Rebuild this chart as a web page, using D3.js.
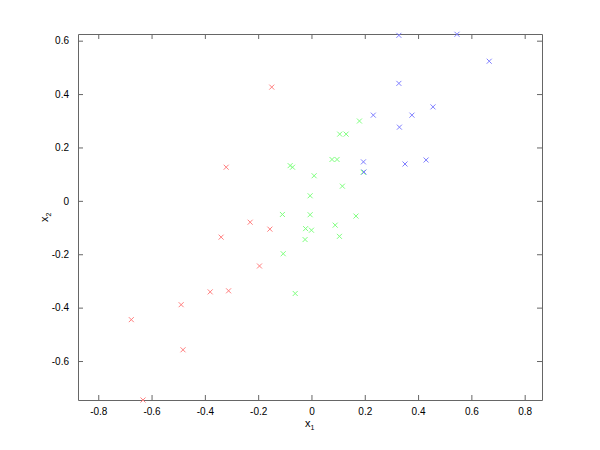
<!DOCTYPE html>
<html>
<head>
<meta charset="utf-8">
<script src="https://cdn.jsdelivr.net/npm/d3@7"></script>
<style>
  body { margin: 0; background: #fff; }
  text { font-family: "Liberation Sans", Arial, sans-serif; }
</style>
</head>
<body>
<svg id="chart"></svg>
<script>
// class 1 (red)
var redX = [-0.676, -0.632, -0.489, -0.482, -0.380, -0.311, -0.339, -0.230, -0.156, -0.195, -0.320, -0.149];
var redY = [-0.445, -0.746, -0.389, -0.558, -0.341, -0.337, -0.136, -0.080, -0.106, -0.244, 0.126, 0.426];
// class 2 (green)
var greenX = [0.180, 0.106, 0.130, 0.077, 0.096, -0.080, -0.071, 0.194, 0.010, 0.116, -0.005,
  -0.109, -0.005, 0.167, 0.089, -0.022, 0.000, 0.105, -0.024, -0.106, -0.061];
var greenY = [0.299, 0.250, 0.250, 0.155, 0.155, 0.132, 0.126, 0.107, 0.094, 0.055, 0.019,
  -0.051, -0.052, -0.057, -0.091, -0.104, -0.110, -0.133, -0.145, -0.198, -0.347];
// class 3 (blue)
var blueX = [0.328, 0.546, 0.667, 0.328, 0.456, 0.232, 0.377, 0.330, 0.195, 0.351, 0.430, 0.197];
var blueY = [0.620, 0.624, 0.523, 0.440, 0.352, 0.321, 0.321, 0.276, 0.146, 0.138, 0.153, 0.108];

var xTicks = [-0.8, -0.6, -0.4, -0.2, 0, 0.2, 0.4, 0.6, 0.8];
var yTicks = [-0.6, -0.4, -0.2, 0, 0.2, 0.4, 0.6];

var width = 600, height = 450;
var padLeft = 78, padRight = 542, padTop = 34, padBottom = 400;

var svg = d3.select("#chart").attr("width", width).attr("height", height);

var xScale = d3.scaleLinear().domain([-0.876, 0.865]).range([padLeft, padRight]);
var yScale = d3.scaleLinear().domain([-0.746, 0.625]).range([padBottom, padTop]);

var fmt = d => d === 0 ? "0" : d.toFixed(1);
var axisColor = "#666";

// box + inward ticks on all four sides
function styleAxis(g) {
  g.select(".domain").attr("stroke", axisColor);
  g.selectAll(".tick line").attr("stroke", axisColor);
  g.selectAll(".tick text").attr("fill", "#000").attr("font-size", 10);
}

svg.append("g")
  .attr("transform", "translate(0," + padBottom + ")")
  .call(d3.axisBottom(xScale).tickValues(xTicks).tickFormat(fmt).tickSizeInner(-5).tickSizeOuter(0).tickPadding(8))
  .call(styleAxis);

svg.append("g")
  .attr("transform", "translate(0," + padTop + ")")
  .call(d3.axisTop(xScale).tickValues(xTicks).tickFormat("").tickSizeInner(-5).tickSizeOuter(0))
  .call(styleAxis);

svg.append("g")
  .attr("transform", "translate(" + padLeft + ",0)")
  .call(d3.axisLeft(yScale).tickValues(yTicks).tickFormat(fmt).tickSizeInner(-5).tickSizeOuter(0).tickPadding(9))
  .call(styleAxis);

svg.append("g")
  .attr("transform", "translate(" + padRight + ",0)")
  .call(d3.axisRight(yScale).tickValues(yTicks).tickFormat("").tickSizeInner(-5).tickSizeOuter(0))
  .call(styleAxis);

// x markers
function drawSeries(xs, ys, color) {
  var pts = xs.map((x, i) => ({x: x, y: ys[i]}));
  var s = 2.5;
  svg.append("g")
    .selectAll("path")
    .data(pts)
    .join("path")
    .attr("d", d => {
      var cx = xScale(d.x), cy = yScale(d.y);
      return `M${cx - s},${cy - s}L${cx + s},${cy + s}M${cx - s},${cy + s}L${cx + s},${cy - s}`;
    })
    .attr("stroke", color)
    .attr("stroke-width", 1)
    .attr("fill", "none");
}

drawSeries(redX, redY, "#ff7f7f");
drawSeries(greenX, greenY, "#7fff7f");
drawSeries(blueX, blueY, "#7f7fff");

// axis labels
var xl = svg.append("text")
  .attr("x", (padLeft + padRight) / 2 - 5)
  .attr("y", 427)
  .attr("font-size", 11);
xl.append("tspan").text("x");
xl.append("tspan").attr("font-size", 7).attr("dy", 3).text("1");

var yl = svg.append("text")
  .attr("transform", "translate(48," + ((padTop + padBottom) / 2 + 5) + ") rotate(-90)")
  .attr("font-size", 11);
yl.append("tspan").text("x");
yl.append("tspan").attr("font-size", 7).attr("dy", 3).text("2");
</script>
</body>
</html>
